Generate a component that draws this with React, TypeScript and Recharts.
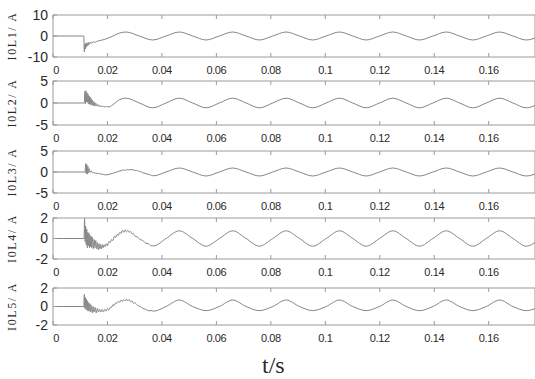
import React from 'react';
import { LineChart, Line, XAxis, YAxis, ReferenceArea } from 'recharts';

// ---- shared axis data ----
const xTicks = [0, 0.02, 0.04, 0.06, 0.08, 0.1, 0.12, 0.14, 0.16];
const xTickLabels = ['0', '0.02', '0.04', '0.06', '0.08', '0.1', '0.12', '0.14', '0.16'];
const xMax = 0.177;

// steady-state sample instants (peaks, zero crossings, troughs)
const tWave = [0.0268, 0.0317, 0.0366, 0.0415, 0.0464, 0.0513, 0.0562, 0.0611, 0.066, 0.0709, 0.0758, 0.0807,
  0.0856, 0.0905, 0.0954, 0.1003, 0.1052, 0.1101, 0.115, 0.1199, 0.1248, 0.1297, 0.1346, 0.1395,
  0.1444, 0.1493, 0.1542, 0.1591, 0.164, 0.1689, 0.1738, 0.1787];

// ---- I0L1 ----
const t1 = [0, 0.0113, 0.0115, 0.0117, 0.0119, 0.0121, 0.0123, 0.0125, 0.0128, 0.0131, 0.0134, 0.0138, 0.0142,
  0.0147, 0.0153, 0.016, 0.0175, 0.019, 0.0205, 0.022, 0.0245];
const v1 = [0, 0, -7.5, -3.8, -6.2, -3.4, -5.2, -3.2, -4.6, -3.0, -4.0, -2.9, -3.5, -2.7, -3.0, -2.6, -2.1, -1.6,
  -0.9, 0.0, 1.4];
const w1 = [1.9, 0, -1.9, 0, 1.9, 0, -1.9, 0, 1.9, 0, -1.9, 0, 1.9, 0, -1.9, 0, 1.9, 0, -1.9, 0, 1.9, 0, -1.9, 0,
  1.9, 0, -1.9, 0, 1.9, 0, -1.9, 0];

// ---- I0L2 ----
const t2 = [0, 0.0115, 0.0117, 0.0119, 0.0121, 0.0123, 0.0125, 0.0127, 0.0129, 0.0131, 0.0133, 0.0135, 0.0137,
  0.0139, 0.0141, 0.0143, 0.0145, 0.0148, 0.0151, 0.0154, 0.0157, 0.016, 0.0164, 0.0168, 0.0172, 0.0176, 0.018,
  0.0185, 0.019, 0.0197, 0.0205, 0.0215, 0.023, 0.0245];
const v2 = [0, 0, 2.6, -0.2, 2.8, 0.3, 2.3, 0.1, 2.0, -0.2, 1.6, -0.3, 1.3, -0.4, 1.0, -0.5, 0.6, -0.6, 0.3, -0.7,
  0.0, -0.7, -0.3, -0.8, -0.5, -0.9, -0.7, -0.8, -0.9, -0.8, -0.9, -0.6, 0.1, 0.8];
const w2 = [1.1, 0, -1.1, 0, 1.1, 0, -1.1, 0, 1.1, 0, -1.1, 0, 1.1, 0, -1.1, 0, 1.1, 0, -1.1, 0, 1.1, 0, -1.1, 0,
  1.1, 0, -1.1, 0, 1.1, 0, -1.1, 0];

// ---- I0L3 ----
const t3 = [0, 0.0118, 0.012, 0.0122, 0.0124, 0.0126, 0.0128, 0.013, 0.0133, 0.0136, 0.014, 0.0145, 0.015, 0.0156,
  0.0163, 0.017, 0.0178, 0.0186, 0.0194, 0.0202, 0.021, 0.0218, 0.0226, 0.0234, 0.0242, 0.025, 0.0258, 0.0266,
  0.0274, 0.0282, 0.029, 0.0298, 0.0306, 0.0314, 0.0322, 0.033, 0.0338, 0.0346, 0.0354, 0.0362, 0.037];
const v3 = [0, 0, 2.0, -0.4, 1.8, -0.5, 1.4, -0.2, 0.8, -0.1, 0.3, -0.2, -0.1, -0.3, -0.3, -0.4, -0.5, -0.6, -0.7,
  -0.6, -0.5, -0.3, -0.2, 0.0, 0.2, 0.3, 0.5, 0.4, 0.6, 0.5, 0.6, 0.4, 0.4, 0.2, 0.1, -0.2, -0.3, -0.5, -0.6,
  -0.85, -0.9];
const w3 = [0.95, 0, -0.95, 0, 0.95, 0, -0.95, 0, 0.95, 0, -0.95, 0, 0.95, 0, -0.95, 0, 0.95, 0, -0.95, 0, 0.95, 0,
  -0.95, 0, 0.95, 0, -0.95, 0, 0.95, 0, -0.95, 0];

// ---- I0L4 ----
const t4 = [0, 0.0114, 0.0116, 0.0118, 0.012, 0.0122, 0.0124, 0.0126, 0.0128, 0.013, 0.0132, 0.0134, 0.0136,
  0.0138, 0.014, 0.0142, 0.0145, 0.0148, 0.0151, 0.0154, 0.0157, 0.016, 0.0163, 0.0166, 0.0169, 0.0172, 0.0175,
  0.0178, 0.0181, 0.0184, 0.0188, 0.0192, 0.0196, 0.02, 0.0205, 0.021, 0.0215, 0.022, 0.0225, 0.023, 0.0235,
  0.024, 0.0245, 0.025, 0.0255, 0.026, 0.0265, 0.027, 0.0275, 0.028, 0.0285, 0.029, 0.0295, 0.03, 0.031, 0.032,
  0.033, 0.034, 0.035, 0.036, 0.037];
const v4 = [0, 0, 1.95, -0.3, 1.2, -0.6, 0.9, -0.9, 0.6, -0.7, 0.5, -0.9, 0.3, -0.8, 0.2, -0.9, 0.1, -1.0, -0.1,
  -0.9, -0.2, -1.0, -0.4, -1.1, -0.5, -1.0, -0.6, -1.0, -0.6, -0.9, -0.6, -0.8, -0.5, -0.7, -0.3, -0.4, -0.1,
  -0.2, 0.2, 0.1, 0.4, 0.3, 0.6, 0.5, 0.8, 0.6, 0.85, 0.65, 0.8, 0.6, 0.7, 0.45, 0.5, 0.25, 0.15, -0.1, -0.2,
  -0.45, -0.5, -0.7, -0.72];
const w4 = [0.75, 0, -0.75, 0, 0.75, 0, -0.75, 0, 0.75, 0, -0.75, 0, 0.75, 0, -0.75, 0, 0.75, 0, -0.75, 0, 0.75, 0,
  -0.75, 0, 0.75, 0, -0.75, 0, 0.75, 0, -0.75, 0];

// ---- I0L5 ----
const t5 = [0, 0.0113, 0.0115, 0.0117, 0.0119, 0.0121, 0.0123, 0.0125, 0.0127, 0.0129, 0.0131, 0.0133, 0.0136,
  0.0139, 0.0142, 0.0145, 0.0148, 0.0151, 0.0155, 0.0159, 0.0163, 0.0167, 0.0171, 0.0175, 0.018, 0.0185, 0.019,
  0.0195, 0.02, 0.0205, 0.021, 0.0215, 0.022, 0.0225, 0.023, 0.0235, 0.024, 0.0245, 0.025, 0.0255, 0.026, 0.0265,
  0.027, 0.0275, 0.028, 0.0285, 0.029, 0.0295, 0.03, 0.031, 0.032, 0.033, 0.034, 0.035, 0.036, 0.037];
const v5 = [0, 0, 1.3, -0.2, 1.0, -0.3, 0.8, -0.4, 0.6, -0.5, 0.4, -0.5, 0.3, -0.6, 0.1, -0.7, 0.0, -0.6, -0.1,
  -0.7, -0.2, -0.6, -0.3, -0.6, -0.3, -0.6, -0.3, -0.5, -0.2, -0.4, -0.1, -0.1, 0.2, 0.1, 0.4, 0.35, 0.55, 0.45,
  0.7, 0.55, 0.75, 0.6, 0.8, 0.6, 0.75, 0.5, 0.6, 0.35, 0.4, 0.15, 0.0, -0.2, -0.3, -0.45, -0.45, -0.5];
const w5 = [0.7, 0, -0.45, 0, 0.7, 0, -0.45, 0, 0.7, 0, -0.45, 0, 0.7, 0, -0.45, 0, 0.7, 0, -0.45, 0, 0.7, 0,
  -0.45, 0, 0.7, 0, -0.45, 0, 0.7, 0, -0.45, 0];

const yLabels = ['I0L1/ A', 'I0L2/ A', 'I0L3/ A', 'I0L4/ A', 'I0L5/ A'];
const yTicks1 = [-10, 0, 10];
const yTicks2 = [-5, 0, 5];
const yTicks3 = [-5, 0, 5];
const yTicks4 = [-2, 0, 2];
const yTicks5 = [-2, 0, 2];

function build(tt: number[], vv: number[], wv: number[]) {
  const last = tt[tt.length - 1];
  const pts = tt.map((t, i) => ({ t, v: vv[i] }));
  tWave.forEach((t, i) => {
    if (t > last) pts.push({ t, v: wv[i] });
  });
  return pts;
}

const panels = [
  { data: build(t1, v1, w1), ticks: yTicks1, top: 15, h: 42, label: yLabels[0] },
  { data: build(t2, v2, w2), ticks: yTicks2, top: 81, h: 44, label: yLabels[1] },
  { data: build(t3, v3, w3), ticks: yTicks3, top: 151, h: 42, label: yLabels[2] },
  { data: build(t4, v4, w4), ticks: yTicks4, top: 218, h: 41, label: yLabels[3] },
  { data: build(t5, v5, w5), ticks: yTicks5, top: 288, h: 37, label: yLabels[4] },
];

const FRAME = '#9a9a9a';
const TXT = '#2a2a2a';
const LINE = '#858585';
const LEFT = 53;
const W = 535;

const makeXTick = (H: number) => (props: any) => {
  const { x, y, payload } = props;
  const idx = xTicks.indexOf(payload.value);
  const lbl = idx >= 0 ? xTickLabels[idx] : String(payload.value);
  return (
    <g>
      <line x1={x} y1={y} x2={x} y2={y - 4} stroke={FRAME} strokeWidth={1} />
      <line x1={x} y1={y - H} x2={x} y2={y - H + 4} stroke={FRAME} strokeWidth={1} />
      <text x={x + (payload.value === 0 ? 3 : 0)} y={y + 13} dy="0.35em" textAnchor="middle" fontSize={11}
        fontFamily="'Liberation Sans', Arial, sans-serif" fill={TXT} letterSpacing={-0.4}>{lbl}</text>
    </g>
  );
};

const YTick = (props: any) => {
  const { x, y, payload } = props;
  return (
    <g>
      <line x1={x} y1={y} x2={x + 4} y2={y} stroke={FRAME} strokeWidth={1} />
      <text x={x - 5} y={y} dy="0.35em" textAnchor="end" fontSize={14}
        fontFamily="'Liberation Sans', Arial, sans-serif" fill={TXT}>{payload.value}</text>
    </g>
  );
};

function Panel({ p }: { p: any }) {
  const mt = 10;
  const xh = 24;
  const yMin = p.ticks[0];
  const yMax = p.ticks[p.ticks.length - 1];
  return (
    <div style={{ position: 'absolute', left: 0, top: p.top - mt }}>
      <LineChart width={W} height={mt + p.h + xh} data={p.data}
        margin={{ top: mt, right: 0, bottom: 0, left: 0 }}>
        <XAxis dataKey="t" type="number" domain={[0, xMax]} allowDataOverflow ticks={xTicks}
          axisLine={false} tickLine={false} tickSize={0} tickMargin={0} height={xh}
          interval={0} tick={makeXTick(p.h)} />
        <YAxis type="number" domain={[yMin, yMax]} allowDataOverflow ticks={p.ticks} width={LEFT}
          axisLine={false} tickLine={false} tickSize={0} tickMargin={0} interval={0} tick={<YTick />} />
        <ReferenceArea x1={0} x2={xMax} y1={yMin} y2={yMax} fill="none" fillOpacity={0}
          stroke={FRAME} strokeWidth={1} ifOverflow="extendDomain" />
        <Line dataKey="v" type="monotone" stroke={LINE} strokeWidth={1} dot={false}
          isAnimationActive={false} />
      </LineChart>
    </div>
  );
}

export default function App() {
  return (
    <div style={{ position: 'absolute', left: 0, top: 0, width: W, height: 379, background: '#fff', overflow: 'hidden' }}>
      {panels.map((p, i) => (
        <Panel key={i} p={p} />
      ))}
      <svg width={W} height={379} style={{ position: 'absolute', left: 0, top: 0, pointerEvents: 'none' }}>
        {panels.map((p, i) => (
          <text key={i} transform={`translate(16, ${p.top + p.h / 2}) rotate(-90)`} textAnchor="middle"
            fontSize={12} letterSpacing={1.6} fontFamily="'Liberation Serif', 'Times New Roman', serif" fill={TXT}>
            {p.label}
          </text>
        ))}
        <text x={262} y={373} fontSize={24} fontFamily="'Liberation Serif', 'Times New Roman', serif" fill={TXT}>t/s</text>
      </svg>
    </div>
  );
}
